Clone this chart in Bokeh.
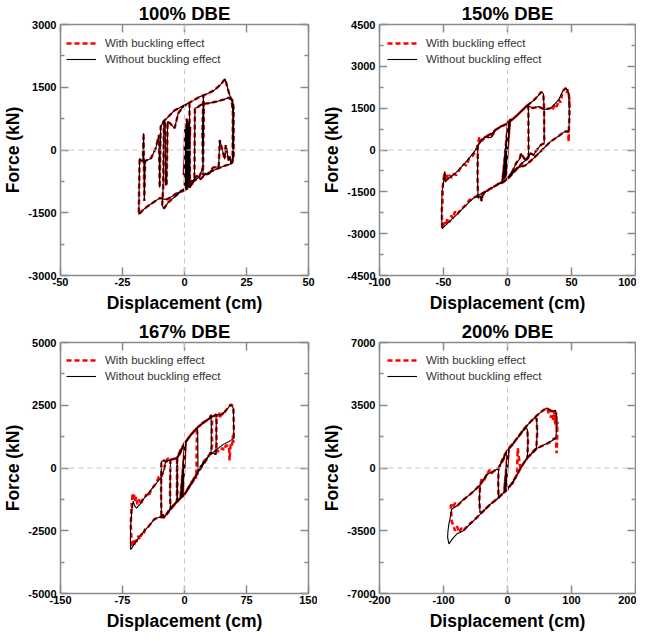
from bokeh.plotting import figure
from bokeh.layouts import gridplot
from bokeh.models import Range1d, LinearAxis, FixedTicker, Span, Legend, LegendItem, Title
from bokeh.embed import file_html
from bokeh.resources import INLINE

FONT = "Liberation Sans"
AXIS_COLOR = "#8a8a8a"

titles = ["100% DBE", "150% DBE", "167% DBE", "200% DBE"]
x_limits = [50, 100, 150, 200]
y_limits = [3000, 4500, 5000, 7000]
x_ticks = [[-50, -25, 0, 25, 50], [-100, -50, 0, 50, 100],
           [-150, -75, 0, 75, 150], [-200, -100, 0, 100, 200]]
y_ticks = [[-3000, -1500, 0, 1500, 3000],
           [-4500, -3000, -1500, 0, 1500, 3000, 4500],
           [-5000, -2500, 0, 2500, 5000],
           [-7000, -3500, 0, 3500, 7000]]
y_minor = [[-2250, -750, 750, 2250],
           [-3750, -2250, -750, 750, 2250, 3750],
           [-3750, -1250, 1250, 3750],
           [-5250, -1750, 1750, 5250]]
legend_labels = ["With buckling effect", "Without buckling effect"]

# ---- 100% DBE (displacement cm, force kN) ----
without_100 = [
    (0, 0), (0.3, 500), (0, -500), (0.8, 650), (0.2, -800), (1.3, 700), (0.5, -900), (1.8, 600), (1.0, -950),
    (2.3, 550), (1.4, -900), (0.6, 400), (-0.3, -600), (0.9, 750), (0.1, -850), (1.6, 650), (0.8, -950),
    (-1.5, -1000), (-4.0, -1120), (-6.5, -1250), (-8.3, -1400), (-9.0, -1330), (-8.6, -900), (-8.3, 715),
    (-7.8, 650), (-7.6, -850), (-7.2, -800), (-6.8, 680), (-5.5, 620), (-4.0, 520), (-2.5, 880), (-1.0, 1000),
    (0.5, 1080), (2.0, 1130),
    (2.2, -900), (3.0, -820), (4.0, -700), (4.2, 1000), (5.5, 1030), (7.0, 1100), (10.0, 1120), (13.0, 1160),
    (16.0, 1210), (17.8, 1250), (19.0, 1200), (19.5, 900), (19.4, -200), (18.9, -330), (16.0, -380),
    (12.0, -480), (9.0, -560), (7.5, -590), (7.2, 400), (7.6, 1300), (7.8, 1000), (7.5, -400), (6.0, -640),
    (3.5, -760), (1.5, -880), (-0.5, -950),
    (-3.5, -1050), (-7.0, -1180), (-10.0, -1150), (-12.5, -1250), (-15.0, -1350), (-17.0, -1450),
    (-18.4, -1540), (-18.3, -900), (-18.1, -200), (-17.5, -250), (-16.8, -270), (-16.5, 400), (-16.2, -1220),
    (-15.9, -260), (-14.5, -230), (-13.5, -195), (-11.6, 40), (-10.3, 360), (-10.0, -900), (-9.6, 560),
    (-8.5, 680), (-6.5, 800), (-4.0, 950), (-1.5, 1020), (1.0, 1100), (3.5, 1180), (6.0, 1270), (9.0, 1340),
    (12.0, 1430), (14.5, 1560), (16.4, 1700), (17.3, 1500), (18.0, 1350), (18.6, 1250), (19.4, 1180),
    (19.8, 1000), (19.8, -150), (19.3, -300), (18.6, -320), (18.3, -150), (17.8, -250), (16.6, 120),
    (16.2, -220), (14.2, 240), (13.8, -400), (11.5, -420), (10.0, -560), (8.0, -600), (6.5, -700),
    (5.0, -620), (3.5, -720), (2.0, -780),
    (1.6, 450), (1.0, -800), (2.0, 500), (1.3, -700), (0.5, 300),
]
with_100 = list(without_100)

# ---- 150% DBE ----
without_150 = [
    (0, 0), (1.0, 800), (-1.0, -900), (1.5, 1000), (-2.0, -1000), (2.0, 1100), (-3.0, -1050), (1.5, 950),
    (-4.0, -1120), (0.5, 1050), (-2.5, -1000), (1.0, 1000), (-1.5, -950), (2.0, 1080),
    (4.0, 1100), (7.6, 1250), (11.5, 1420), (15.5, 1600), (16.3, 1500), (16.5, -230), (13.5, -330),
    (10.5, -120), (9.5, -330), (7.0, -450), (4.0, -750), (0.5, -1000), (-3.0, -1150),
    (-8.0, -1250), (-13.3, -1380), (-17.0, -1500), (-19.5, -1620), (-20.3, -1830), (-21.0, -1650),
    (-23.0, -1713), (-23.4, -1000), (-23.2, 185), (-20.5, 350), (-17.2, 480), (-13.0, 440), (-9.4, 720),
    (-5.0, 840), (0.0, 950), (4.0, 1100),
    (7.6, 1250), (12.0, 1450), (15.4, 1600), (20.6, 1785), (24.0, 1950), (26.3, 2080), (28.0, 2020),
    (28.6, 1500), (28.7, 243), (26.0, 180), (22.0, -50), (20.6, -180), (18.0, -120), (16.0, -300),
    (12.0, -450), (8.0, -640), (4.0, -850), (0.0, -1050),
    (-5.0, -1150), (-10.0, -1300), (-15.0, -1430), (-20.0, -1560), (-26.3, -1713), (-33.0, -2000),
    (-39.4, -2306), (-45.0, -2550), (-51.1, -2816), (-51.4, -2400), (-51.2, -1476), (-50.5, -1350),
    (-49.0, -765), (-48.6, -1150), (-46.0, -1020), (-41.0, -850), (-36.8, -650), (-30.0, -300), (-24.0, 60),
    (-20.0, 380), (-17.0, 480), (-12.0, 600), (-9.4, 720), (-5.0, 850), (0.0, 950),
    (7.6, 1250), (15.4, 1600), (17.0, 1570), (20.0, 1500), (24.0, 1560), (29.0, 1450), (33.6, 1500),
    (37.0, 1650), (40.0, 1800), (43.0, 2100), (45.4, 2223), (47.0, 2150), (48.0, 2000), (48.3, 1200),
    (48.0, 660), (46.7, 660), (44.0, 640), (40.0, 500), (33.6, 300), (27.0, 0), (20.6, -290), (14.0, -550),
    (7.6, -646), (3.0, -850), (0.0, -1000), (-2.0, -1100),
]
with_150 = [
    (0, 0), (1.0, 800), (-1.0, -900), (1.5, 1000), (-2.0, -1000), (2.0, 1100), (-3.0, -1050), (1.5, 950),
    (-4.0, -1120), (0.5, 1050), (-2.5, -1000), (1.0, 1000), (-1.5, -950), (2.0, 1080),
    (4.0, 1100), (7.6, 1250), (11.5, 1420), (15.5, 1600), (16.3, 1500), (16.5, -230), (13.5, -330),
    (10.5, -120), (9.5, -330), (7.0, -450), (4.0, -750), (0.5, -1000), (-3.0, -1150),
    (-8.0, -1250), (-13.3, -1380), (-17.0, -1500), (-19.5, -1620), (-20.3, -1830), (-21.0, -1650),
    (-23.0, -1713), (-23.4, -1000), (-23.2, 185), (-20.5, 350), (-17.2, 480), (-13.0, 440), (-9.4, 720),
    (-5.0, 840), (0.0, 950), (4.0, 1100),
    (7.6, 1250), (12.0, 1450), (15.4, 1600), (20.6, 1785), (24.0, 1950), (26.3, 2080), (28.0, 2020),
    (28.6, 1500), (28.7, 243), (26.0, 180), (22.0, -50), (20.6, -180), (18.0, -120), (16.0, -300),
    (12.0, -450), (8.0, -640), (4.0, -850), (0.0, -1050),
    (-5.0, -1150), (-10.0, -1300), (-15.0, -1430), (-20.0, -1560), (-26.3, -1713), (-30.0, -1800),
    (-33.0, -2000), (-36.0, -2100), (-39.4, -2306), (-41.0, -2200), (-42.5, -2450), (-44.0, -2350),
    (-45.5, -2600), (-47.0, -2450), (-48.0, -2700), (-49.5, -2600), (-50.5, -2800), (-51.1, -2700),
    (-51.3, -2100), (-50.8, -2000), (-50.6, -1300), (-49.8, -1000), (-49.2, -800), (-48.5, -1100),
    (-47.5, -850), (-46.5, -1050), (-45.0, -900), (-43.5, -1000), (-42.0, -850), (-40.0, -900),
    (-36.8, -650), (-34.0, -500), (-32.0, -560), (-30.0, -300), (-27.0, -200), (-24.0, 60), (-22.0, 450),
    (-20.0, 330), (-17.0, 480), (-12.0, 600), (-9.4, 720), (-5.0, 850), (0.0, 950),
    (7.6, 1250), (15.4, 1600), (17.0, 1570), (20.0, 1500), (24.0, 1560), (29.0, 1450), (33.6, 1500),
    (35.0, 1420), (37.0, 1650), (38.5, 1550), (40.0, 1800), (41.5, 1700), (43.0, 2100), (45.4, 2223),
    (46.3, 2050), (47.0, 2180), (48.0, 1950), (48.6, 1500), (48.2, 1900), (48.5, 1200), (48.0, 900),
    (47.8, 300), (47.4, 660), (46.0, 680), (44.0, 640), (40.0, 500), (33.6, 300), (27.0, 0), (20.6, -290),
    (14.0, -550), (7.6, -646), (3.0, -850), (0.0, -1000), (-2.0, -1100),
]

# ---- 167% DBE ----
without_167 = [
    (0, 0), (1.0, 900), (-2.0, -1000), (1.5, 1000), (-3.0, -1100), (1.0, 1050), (-4.0, -1150), (0.5, 950),
    (-5.0, -1200), (1.0, 1000), (-2.0, -1050), (0.0, 900),
    (5.0, 1200), (10.0, 1400), (14.5, 1580), (16.0, 1500), (16.3, -100), (14.5, -263), (10.0, -500),
    (5.0, -800), (0.0, -1053),
    (-5.0, -1200), (-9.0, -1316), (-13.0, -1500), (-17.0, -1650), (-17.5, -1000), (-17.0, 329),
    (-13.0, 360), (-9.0, 395), (-5.0, 700), (0.0, 987),
    (7.0, 1300), (14.5, 1579), (22.0, 1780), (30.2, 1974), (32.0, 2100), (32.5, 1500), (32.2, 658),
    (28.0, 400), (22.0, 100), (16.0, -200), (10.0, -550), (4.0, -850), (0.0, -1053),
    (-6.0, -1250), (-12.0, -1450), (-18.0, -1700), (-24.7, -1974), (-26.0, -1850), (-28.0, -1950),
    (-28.3, -1000), (-28.0, 263), (-25.0, 300), (-22.0, 250), (-17.0, 329), (-9.0, 395), (-9.2, -1300),
    (-8.5, -1250), (-8.8, 420), (-5.0, 700), (0.0, 987),
    (7.0, 1300), (14.5, 1579), (22.0, 1780), (30.2, 1974), (36.0, 2100), (38.1, 2131), (38.5, 1500),
    (38.0, 550), (34.0, 600), (30.2, 526), (22.0, 200), (14.5, -263), (7.0, -650), (0.0, -1053),
    (-9.0, -1316), (-18.0, -1650), (-24.7, -1974), (-30.0, -1950), (-36.5, -2040), (-44.0, -2350),
    (-52.2, -2631), (-58.0, -2900), (-62.0, -3100), (-65.2, -3250), (-65.5, -2800), (-65.0, -2237),
    (-63.5, -1600), (-62.8, -1447), (-62.0, -1316), (-60.5, -1500), (-58.0, -1600), (-54.0, -1450),
    (-48.3, -1184), (-40.0, -850), (-34.0, -600), (-28.7, -395), (-25.0, -100), (-22.8, 263), (-16.9, 329),
    (-9.0, 395), (-4.0, 650), (0.0, 987),
    (7.0, 1300), (14.5, 1579), (22.0, 1800), (30.2, 1974), (38.1, 2131), (44.0, 2105), (47.0, 2200),
    (50.0, 2300), (53.0, 2400), (55.8, 2526), (58.0, 2450), (59.2, 2368), (59.5, 1500), (59.7, 1184),
    (56.0, 1100), (53.8, 1053), (45.9, 921), (38.0, 700), (30.2, 526), (22.0, 150), (14.5, -263),
    (7.0, -650), (0.0, -1053),
]
with_167 = [
    (0, 0), (1.0, 900), (-2.0, -1000), (1.5, 1000), (-3.0, -1100), (1.0, 1050), (-4.0, -1150), (0.5, 950),
    (-5.0, -1200), (1.0, 1000), (-2.0, -1050), (0.0, 900),
    (5.0, 1200), (10.0, 1400), (14.5, 1580), (15.0, 1350), (14.3, -395), (12.0, -380), (10.0, -500),
    (5.0, -800), (0.0, -1053),
    (-5.0, -1200), (-9.0, -1316), (-13.0, -1500), (-17.0, -1650), (-17.5, -1000), (-17.0, 329),
    (-13.0, 360), (-9.0, 395), (-5.0, 700), (0.0, 987),
    (7.0, 1300), (14.5, 1579), (22.0, 1780), (30.2, 1974), (32.0, 2100), (33.5, 1900), (33.0, 1500),
    (33.5, 900), (32.2, 658), (28.0, 400), (22.0, 100), (16.0, -200), (10.0, -550), (4.0, -850),
    (0.0, -1053),
    (-6.0, -1250), (-12.0, -1450), (-18.0, -1700), (-24.7, -1974), (-26.0, -1850), (-28.0, -1950),
    (-28.3, -1000), (-28.0, 263), (-25.0, 300), (-22.0, 250), (-17.0, 329), (-9.0, 395), (-9.2, -1300),
    (-8.5, -1250), (-8.8, 420), (-5.0, 700), (0.0, 987),
    (7.0, 1300), (14.5, 1579), (22.0, 1780), (30.2, 1974), (34.0, 2150), (36.0, 2050), (38.1, 2131),
    (39.0, 1800), (38.5, 1500), (39.0, 1000), (38.0, 550), (34.0, 600), (30.2, 526), (22.0, 200),
    (14.5, -263), (7.0, -650), (0.0, -1053),
    (-9.0, -1316), (-18.0, -1650), (-24.7, -1974), (-30.0, -1950), (-36.5, -2040), (-44.0, -2350),
    (-48.0, -2450), (-50.0, -2700), (-52.2, -2631), (-54.0, -2850), (-56.0, -2700), (-58.0, -2950),
    (-59.5, -2800), (-61.0, -3100), (-62.0, -2900), (-63.5, -3100), (-64.5, -2600), (-65.0, -2237),
    (-64.5, -1800), (-64.0, -1400), (-63.5, -1600), (-63.0, -1000), (-62.0, -1200), (-61.0, -1050),
    (-60.0, -1350), (-58.5, -1150), (-57.0, -1450), (-55.0, -1250), (-53.0, -1450), (-50.0, -1200),
    (-48.3, -1184), (-46.0, -1050), (-44.0, -1150), (-40.0, -850), (-34.0, -600), (-31.0, -350),
    (-28.7, -395), (-25.0, -100), (-22.8, 263), (-20.0, 380), (-16.9, 329), (-9.0, 395), (-4.0, 650),
    (0.0, 987),
    (7.0, 1300), (14.5, 1579), (22.0, 1800), (30.2, 1974), (38.1, 2131), (40.0, 2050), (42.0, 2200),
    (44.0, 2000), (46.0, 2200), (47.0, 2100), (50.0, 2300), (53.0, 2400), (55.8, 2526), (58.0, 2500),
    (59.2, 2300), (59.8, 1500), (59.0, 1000), (58.6, 1300), (57.5, 900), (56.0, 1000), (55.0, 600),
    (54.5, 300), (53.8, 900), (50.0, 900), (48.0, 700), (45.9, 800), (43.0, 650), (38.0, 700), (30.2, 526),
    (22.0, 150), (14.5, -263), (7.0, -650), (0.0, -1053),
]

# ---- 200% DBE ----
without_200 = [
    (0, 0), (1.0, 900), (-2.0, -1000), (1.5, 1000), (-3.0, -1100), (2.0, 1013), (-4.0, -1150), (0.5, 950),
    (-5.0, -1197), (1.0, 1000), (-2.0, -1050), (0.0, 900),
    (-3.0, -1100), (-6.0, -1381), (-10.0, -1500), (-14.0, -1650), (-14.5, -800), (-13.9, 0), (-10.0, 300),
    (-5.0, 700), (0.0, 1000),
    (8.0, 1300), (15.0, 1658), (22.0, 1950), (28.0, 2250), (31.0, 2150), (32.0, 1500), (31.0, 553),
    (24.0, 200), (15.0, -368), (8.0, -800), (0.0, -1200),
    (-6.0, -1381), (-15.0, -1700), (-27.0, -2026), (-35.0, -2300), (-40.0, -2487), (-43.0, -2450),
    (-44.0, -1800), (-42.7, -921), (-38.0, -700), (-32.2, -368), (-21.8, -184), (-13.9, 0), (-6.0, 500),
    (0.0, 1000),
    (15.0, 1658), (25.0, 2150), (35.9, 2579), (42.0, 2800), (45.5, 2750), (46.5, 2000), (45.0, 1105),
    (38.0, 850), (30.7, 553), (20.0, 0), (15.0, -368), (6.0, -900), (0.0, -1200),
    (-6.0, -1381), (-14.0, -1650), (-27.0, -2026), (-40.0, -2487), (-53.2, -2947), (-69.0, -3500),
    (-79.4, -3684), (-86.0, -3950), (-91.5, -4236), (-93.6, -3868), (-93.0, -3500), (-91.5, -3100),
    (-90.0, -2855), (-87.3, -2302), (-79.4, -2118), (-70.0, -1800), (-58.5, -1474), (-50.0, -1200),
    (-42.7, -921), (-37.0, -600), (-32.2, -368), (-21.8, -184), (-13.9, 0), (-6.0, 500), (0.0, 1000),
    (8.0, 1300), (15.0, 1658), (25.0, 2150), (35.9, 2579), (46.4, 2947), (55.0, 3200), (62.0, 3352),
    (66.0, 3250), (70.0, 3150), (75.2, 3223), (77.0, 2800), (76.5, 2200), (75.5, 1658), (67.4, 1474),
    (55.0, 1250), (46.4, 1105), (38.0, 800), (30.7, 553), (22.0, 100), (15.0, -368), (8.0, -850),
    (0.0, -1100),
]
with_200 = [
    (0, 0), (1.0, 900), (-2.0, -1000), (1.5, 1000), (-3.0, -1100), (2.0, 1013), (-4.0, -1150), (0.5, 950),
    (-5.0, -1197), (1.0, 1000), (-2.0, -1050), (0.0, 900),
    (-3.0, -1100), (-6.0, -1381), (-10.0, -1500), (-14.0, -1650), (-14.5, -800), (-13.9, 0), (-10.0, 300),
    (-5.0, 700), (0.0, 1000),
    (8.0, 1300), (15.0, 1658), (22.0, 1950), (28.0, 2250), (31.0, 2150), (32.0, 1500), (31.0, 553),
    (24.0, 200), (15.0, -368), (8.0, -800), (0.0, -1200),
    (-6.0, -1381), (-15.0, -1700), (-27.0, -2026), (-35.0, -2300), (-40.0, -2487), (-43.0, -2450),
    (-44.0, -1800), (-42.7, -921), (-38.0, -700), (-32.2, -368), (-21.8, -184), (-13.9, 0), (-6.0, 500),
    (0.0, 1000),
    (15.0, 1658), (25.0, 2150), (35.9, 2579), (42.0, 2800), (45.5, 2750), (46.5, 2000), (45.0, 1105),
    (38.0, 850), (30.7, 553), (20.0, 0), (16.0, 1100), (15.2, 200), (15.0, -368), (6.0, -900), (0.0, -1200),
    (-6.0, -1381), (-14.0, -1650), (-27.0, -2026), (-40.0, -2487), (-53.2, -2947), (-62.0, -3200),
    (-69.0, -3500), (-72.0, -3350), (-75.0, -3600), (-79.0, -3250), (-82.0, -3500), (-85.0, -3150),
    (-87.3, -2967), (-88.0, -2500), (-88.5, -2100), (-87.0, -2044), (-85.0, -2200), (-82.0, -1950),
    (-78.0, -2100), (-70.0, -1800), (-58.5, -1474), (-50.0, -1200), (-42.7, -921), (-40.0, -600),
    (-37.0, -700), (-32.2, -368), (-28.0, -100), (-25.0, -300), (-21.8, -184), (-13.9, 0), (-6.0, 500),
    (0.0, 1000),
    (8.0, 1300), (15.0, 1658), (25.0, 2150), (35.9, 2579), (46.4, 2947), (55.0, 3200), (62.0, 3352),
    (64.0, 3050), (66.0, 3300), (68.0, 2800), (70.0, 3250), (71.5, 2600), (73.0, 3200), (74.5, 2400),
    (76.0, 3100), (77.0, 2000), (78.0, 2600), (77.5, 1400), (76.8, 829), (76.0, 1300), (75.5, 1658),
    (70.0, 1600), (67.4, 1474), (62.0, 1350), (55.0, 1250), (46.4, 1105), (38.0, 800), (30.7, 553),
    (22.0, 100), (15.0, -368), (8.0, -850), (0.0, -1100),
]

series_without = [without_100, without_150, without_167, without_200]
series_with = [with_100, with_150, with_167, with_200]

# layout (pixels)
col_w = [317, 319]
row_h = [318, 315]
border_lr = [(54, 9), (62, 1)]
border_tb = [(22, 43), (23, 38)]
legend_x = [6, 8]


def style_axis(ax, labels):
    ax.axis_line_color = AXIS_COLOR
    ax.axis_line_width = 1.5
    ax.major_tick_line_color = AXIS_COLOR
    ax.major_tick_line_width = 1.5
    ax.minor_tick_line_color = AXIS_COLOR
    ax.minor_tick_line_width = 1.5
    ax.major_tick_in = 8
    ax.major_tick_out = 0
    ax.minor_tick_in = 4
    ax.minor_tick_out = 0
    if labels:
        ax.major_label_text_font = FONT
        ax.major_label_text_font_size = "11px"
        ax.major_label_text_font_style = "bold"
        ax.major_label_text_color = "black"
        ax.axis_label_text_font = FONT
        ax.axis_label_text_font_size = "17.5px"
        ax.axis_label_text_font_style = "bold"
        ax.axis_label_text_color = "black"
    else:
        ax.major_label_text_font_size = "0px"
        ax.major_label_text_color = None
        ax.major_label_standoff = 0


def make_panel(i):
    r, c = divmod(i, 2)
    xl, yl = x_limits[i], y_limits[i]
    bl, br = border_lr[c]
    bt, bb = border_tb[r]
    w, h = col_w[c], row_h[r]
    frame_h = h - bt - bb
    title = Title(text=titles[i], align="center", text_font=FONT, text_font_size="18.5px",
                  text_font_style="bold", text_color="black", standoff=1)
    p = figure(width=w, height=h, x_range=Range1d(-xl, xl), y_range=Range1d(-yl, yl),
               output_backend="svg", toolbar_location=None, title=title,
               x_axis_location=None, y_axis_location=None,
               min_border_left=bl, min_border_right=br, min_border_top=bt, min_border_bottom=bb)
    p.outline_line_color = None
    p.grid.visible = False
    p.background_fill_color = "white"
    p.border_fill_color = "white"

    xt = FixedTicker(ticks=x_ticks[i], minor_ticks=[])
    yt = FixedTicker(ticks=y_ticks[i], minor_ticks=y_minor[i])

    bottom = LinearAxis(ticker=xt, axis_label="Displacement (cm)",
                        major_label_overrides={v: str(v) for v in x_ticks[i]})
    style_axis(bottom, True)
    bottom.major_label_standoff = 2
    bottom.axis_label_standoff = 4
    p.add_layout(bottom, "below")

    left = LinearAxis(ticker=yt, axis_label="Force (kN)",
                      major_label_overrides={v: str(v) for v in y_ticks[i]})
    style_axis(left, True)
    left.major_label_standoff = 4
    left.axis_label_standoff = 2
    p.add_layout(left, "left")

    top = LinearAxis(ticker=FixedTicker(ticks=x_ticks[i], minor_ticks=[]))
    style_axis(top, False)
    p.add_layout(top, "above")
    right = LinearAxis(ticker=FixedTicker(ticks=y_ticks[i], minor_ticks=y_minor[i]))
    style_axis(right, False)
    p.add_layout(right, "right")

    p.add_layout(Span(location=0, dimension="height", line_color="#c8c8c8", line_dash="5 4", line_width=1))
    p.add_layout(Span(location=0, dimension="width", line_color="#c8c8c8", line_dash="5 4", line_width=1))

    wx = [pt[0] for pt in series_with[i]]
    wy = [pt[1] for pt in series_with[i]]
    bx = [pt[0] for pt in series_without[i]]
    by = [pt[1] for pt in series_without[i]]
    r_with = p.line(wx, wy, line_color="#ff0000", line_width=2.5, line_dash="5 3")
    r_without = p.line(bx, by, line_color="black", line_width=1.1)

    legend = Legend(items=[LegendItem(label=legend_labels[0], renderers=[r_with]),
                           LegendItem(label=legend_labels[1], renderers=[r_without])],
                    location=(legend_x[c], frame_h - 13 - 32),
                    glyph_width=30, glyph_height=16, label_height=16, label_standoff=9,
                    spacing=0, padding=0, margin=0,
                    border_line_color=None, background_fill_color="white", background_fill_alpha=1.0,
                    label_text_font=FONT, label_text_font_size="11.5px", label_text_color="#333333")
    p.add_layout(legend)
    return p


panels = [make_panel(i) for i in range(4)]
grid = gridplot([[panels[0], panels[1]], [panels[2], panels[3]]], toolbar_location=None)

with open("out.html", "w") as f:
    f.write(file_html(grid, INLINE))
